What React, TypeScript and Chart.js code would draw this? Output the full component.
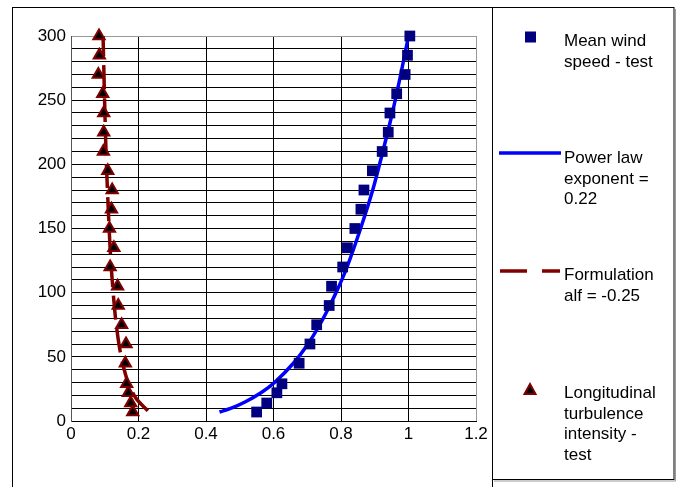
import React, { useEffect, useRef } from "react";
import { Chart, registerables } from "chart.js";

Chart.register(...registerables);

// Heights (m) of the test measurements
const measurementHeights = [7, 14, 22, 29, 45, 60, 75, 90, 105, 120, 135, 150, 165, 180, 195, 210, 225, 240, 255, 270, 285, 300];
// Mean wind speed - test (normalised)
const windSpeed = [0.55, 0.58, 0.61, 0.625, 0.676, 0.708, 0.728, 0.765, 0.772, 0.805, 0.819, 0.841, 0.859, 0.868, 0.893, 0.922, 0.94, 0.945, 0.965, 0.99, 0.997, 1.004];
// Longitudinal turbulence intensity - test
const turbulence = [0.183, 0.177, 0.17, 0.165, 0.161, 0.163, 0.15, 0.14, 0.138, 0.116, 0.127, 0.114, 0.12, 0.122, 0.109, 0.096, 0.097, 0.097, 0.094, 0.081, 0.084, 0.083];

// Power law curve (exponent 0.22)
const powerHeights = [7, 10, 15, 22, 30, 45, 60, 75, 90, 105, 120, 150, 180, 210, 240, 270, 300];
const powerValues = [0.44, 0.475, 0.517, 0.563, 0.603, 0.659, 0.702, 0.737, 0.767, 0.794, 0.818, 0.858, 0.894, 0.924, 0.952, 0.977, 1.0];

// Formulation alf = -0.25 curve
const formHeights = [8, 15, 20, 30, 45, 60, 80, 100, 125, 150, 200, 250, 300];
const formValues = [0.228, 0.201, 0.187, 0.169, 0.153, 0.142, 0.132, 0.125, 0.118, 0.113, 0.105, 0.0995, 0.095];

const xTicks = [0, 0.2, 0.4, 0.6, 0.8, 1, 1.2];
const yLabelStep = 50;

const legendMean = ["Mean wind", "speed - test"];
const legendPower = ["Power law", "exponent =", "0.22"];
const legendForm = ["Formulation", "alf = -0.25"];
const legendTurb = ["Longitudinal", "turbulence", "intensity -", "test"];

const FONT = '"Liberation Sans", Arial, Helvetica, sans-serif';

const toPoints = (xs: number[], ys: number[]) => xs.map((x, i) => ({ x, y: ys[i] }));

const framePlugin = {
  id: "frameLegend",
  afterDraw(chart: any) {
    const ctx = chart.ctx as CanvasRenderingContext2D;
    ctx.save();
    ctx.strokeStyle = "#000";
    ctx.lineWidth = 1;
    ctx.setLineDash([]);
    // outer chart frame
    ctx.strokeRect(12.5, 7.5, 480, 500);
    // legend box
    ctx.strokeRect(492.5, 7.5, 181.5, 472);
    ctx.strokeStyle = "#999";
    ctx.beginPath();
    ctx.moveTo(494, 481);
    ctx.lineTo(675.5, 481);
    ctx.lineTo(675.5, 9);
    ctx.stroke();

    ctx.font = `17px ${FONT}`;
    ctx.fillStyle = "#000";
    ctx.textAlign = "left";
    ctx.textBaseline = "alphabetic";
    const tx = 564;
    const lh = 20.5;
    const drawLines = (lines: string[], base: number) => {
      lines.forEach((l, i) => ctx.fillText(l, tx, base + i * lh));
    };

    // entry 1: square
    ctx.fillStyle = "#000080";
    ctx.fillRect(525, 31.5, 11, 11);
    ctx.fillStyle = "#000";
    drawLines(legendMean, 46);

    // entry 2: blue line
    ctx.strokeStyle = "#0000ff";
    ctx.lineWidth = 3.5;
    ctx.beginPath();
    ctx.moveTo(499, 153);
    ctx.lineTo(561, 153);
    ctx.stroke();
    drawLines(legendPower, 163);

    // entry 3: dashed dark red
    ctx.strokeStyle = "#800000";
    ctx.lineWidth = 3.5;
    ctx.beginPath();
    ctx.moveTo(500, 271);
    ctx.lineTo(527, 271);
    ctx.moveTo(542, 271);
    ctx.lineTo(560, 271);
    ctx.stroke();
    drawLines(legendForm, 280);

    // entry 4: triangle
    ctx.fillStyle = "#000";
    ctx.strokeStyle = "#800000";
    ctx.lineWidth = 2;
    ctx.beginPath();
    ctx.moveTo(530, 384);
    ctx.lineTo(535.5, 394);
    ctx.lineTo(524.5, 394);
    ctx.closePath();
    ctx.fill();
    ctx.stroke();
    ctx.fillStyle = "#000";
    drawLines(legendTurb, 398);

    ctx.restore();
  },
};

export default function App() {
  const ref = useRef<HTMLCanvasElement>(null);

  useEffect(() => {
    if (!ref.current) return;
    const chart = new Chart(ref.current, {
      type: "scatter",
      data: {
        datasets: [
          {
            label: "Mean wind speed - test",
            data: toPoints(windSpeed, measurementHeights),
            showLine: false,
            pointStyle: "rect",
            pointRadius: 7.6,
            backgroundColor: "#000080",
            borderColor: "#000080",
            borderWidth: 0,
            order: 0,
            clip: false,
          } as any,
          {
            label: "Longitudinal turbulence intensity - test",
            data: toPoints(turbulence, measurementHeights),
            showLine: false,
            pointStyle: "triangle",
            pointRadius: 6.5,
            backgroundColor: "#000",
            borderColor: "#800000",
            borderWidth: 2,
            order: 0,
            clip: false,
          } as any,
          {
            label: "Power law exponent = 0.22",
            data: toPoints(powerValues, powerHeights),
            showLine: true,
            pointRadius: 0,
            borderColor: "#0000ff",
            borderWidth: 3.5,
            tension: 0.3,
            order: 1,
            clip: false,
          } as any,
          {
            label: "Formulation alf = -0.25",
            data: toPoints(formValues, formHeights),
            showLine: true,
            pointRadius: 0,
            borderColor: "#800000",
            borderWidth: 3.5,
            borderDash: [24, 9],
            tension: 0.3,
            order: 1,
            clip: false,
          } as any,
        ],
      },
      options: {
        responsive: false,
        animation: false,
        layout: { padding: { left: 0, top: 36, right: 205, bottom: 0 } },
        plugins: {
          legend: { display: false },
          tooltip: { enabled: false },
        },
        scales: {
          x: {
            type: "linear",
            min: 0,
            max: 1.2,
            afterBuildTicks: (s: any) => {
              s.ticks = xTicks.map((v) => ({ value: v }));
            },
            afterFit: (s: any) => {
              s.height = 66;
            },
            ticks: {
              color: "#000",
              font: { size: 17, family: FONT },
              padding: 3,
              maxRotation: 0,
              callback: (v: any) => String(Number(Number(v).toFixed(1))),
            },
            grid: {
              drawTicks: false,
              color: (c: any) => (c.tick && c.tick.value === 1.2 ? "#999" : "#000"),
              lineWidth: 1,
            },
            border: { color: "#000", width: 1 },
          },
          y: {
            type: "linear",
            min: 0,
            max: 300,
            afterFit: (s: any) => {
              s.width = 71;
            },
            ticks: {
              stepSize: 10,
              autoSkip: false,
              color: "#000",
              font: { size: 17, family: FONT },
              padding: 5,
              callback: (v: any) => (Number(v) % yLabelStep === 0 ? String(v) : ""),
            },
            grid: {
              drawTicks: false,
              color: (c: any) => (c.tick && c.tick.value === 300 ? "#999" : "#000"),
              lineWidth: 1,
            },
            border: { color: "#555", width: 1 },
          },
        },
      } as any,
      plugins: [framePlugin],
    });
    return () => chart.destroy();
  }, []);

  return (
    <div style={{ position: "absolute", left: 0, top: 0, width: 681, height: 487, background: "#fff" }}>
      <canvas ref={ref} width={681} height={487} style={{ display: "block" }} />
    </div>
  );
}
